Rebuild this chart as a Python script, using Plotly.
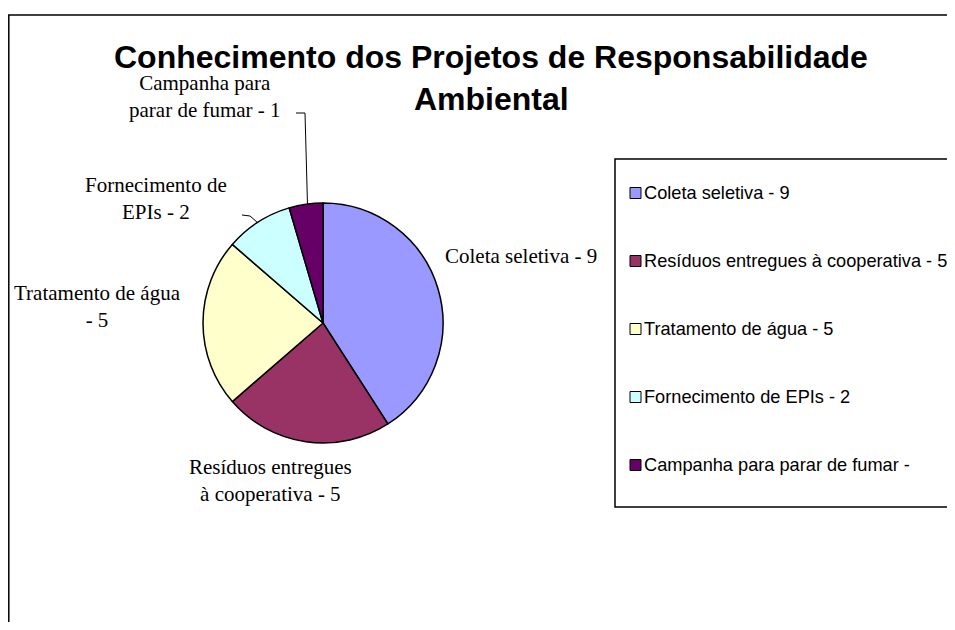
import plotly.graph_objects as go

# ---- data ----
labels = ["Coleta seletiva", "Resíduos entregues à cooperativa", "Tratamento de água",
          "Fornecimento de EPIs", "Campanha para parar de fumar"]
values = [9, 5, 5, 2, 1]
colors = ["#9999FF", "#993366", "#FFFFCC", "#CCFFFF", "#660066"]
title_lines = ["Conhecimento dos Projetos de Responsabilidade", "Ambiental"]

# the page body has an 8px margin; size the figure so it fits the 955x630 window
OFF = 8
W, H = 955 - OFF, 630 - 2 * OFF

def px(x):
    return (x - OFF) / W

def py(y):
    return 1 - (y - OFF) / H

fig = go.Figure()
fig.add_trace(go.Pie(
    labels=labels, values=values, sort=False, direction="clockwise", rotation=0,
    marker=dict(colors=colors, line=dict(color="black", width=1.5)),
    textinfo="none", hoverinfo="label+value", showlegend=False,
    domain=dict(x=[px(203), px(443)], y=[py(443), py(203)]),
))

shapes = []
annotations = []

# outer frame
shapes.append(dict(type="rect", xref="paper", yref="paper", x0=px(8.8), x1=px(980),
                   y0=py(15), y1=py(660), line=dict(color="black", width=1.5)))

# title
for txt, yy in zip(title_lines, [57, 99]):
    annotations.append(dict(text="<b>%s</b>" % txt, x=px(491), y=py(yy), xref="paper", yref="paper",
                            showarrow=False, xanchor="center", yanchor="middle",
                            font=dict(family="Liberation Sans, Arial", size=32, color="black")))

# data labels (serif)
serif = dict(family="Liberation Serif, Times New Roman", size=21, color="black")
lab_txt = [
    "%s - %d" % (labels[0], values[0]),
    "Resíduos entregues<br>à cooperativa - %d" % values[1],
    "Tratamento de água<br>- %d" % values[2],
    "Fornecimento de<br>EPIs - %d" % values[3],
    "Campanha para<br>parar de fumar - %d" % values[4],
]
lab_pos = [(443, 256, "left"), (270, 480, "center"), (97, 306, "center"),
           (156, 198, "center"), (205, 96, "center")]
for t, (x, y, anc) in zip(lab_txt, lab_pos):
    annotations.append(dict(text=t, x=px(x), y=py(y), xref="paper", yref="paper",
                            showarrow=False, xanchor=anc, yanchor="middle", align="center",
                            font=serif))

# leader lines
shapes.append(dict(type="path", xref="paper", yref="paper",
                   path="M %f,%f L %f,%f L %f,%f" % (px(296), py(113), px(305), py(113), px(307.5), py(205)),
                   line=dict(color="black", width=1)))
shapes.append(dict(type="path", xref="paper", yref="paper",
                   path="M %f,%f L %f,%f L %f,%f" % (px(242), py(215), px(250), py(216), px(258), py(223)),
                   line=dict(color="black", width=1)))

# legend box
shapes.append(dict(type="rect", xref="paper", yref="paper", x0=px(615), x1=px(990),
                   y0=py(507), y1=py(159), line=dict(color="black", width=1.5)))
for i, (lab, v, c) in enumerate(zip(labels, values, colors)):
    yc = 193 + 68 * i
    shapes.append(dict(type="rect", xref="paper", yref="paper",
                       x0=px(630), x1=px(641), y0=py(yc + 5.5), y1=py(yc - 5.5),
                       fillcolor=c, line=dict(color="black", width=1)))
    txt = "%s - %d" % (lab, v) if i < len(labels) - 1 else "%s -" % lab
    annotations.append(dict(text=txt, x=px(643), y=py(yc), xref="paper", yref="paper",
                            showarrow=False, xanchor="left", yanchor="middle", borderpad=0,
                            font=dict(family="Liberation Sans, Arial", size=18.2, color="black")))

fig.update_layout(
    width=W, height=H, margin=dict(l=0, r=0, t=0, b=0),
    paper_bgcolor="white", plot_bgcolor="white",
    shapes=shapes, annotations=annotations, showlegend=False,
)
fig.write_html("out.html")
